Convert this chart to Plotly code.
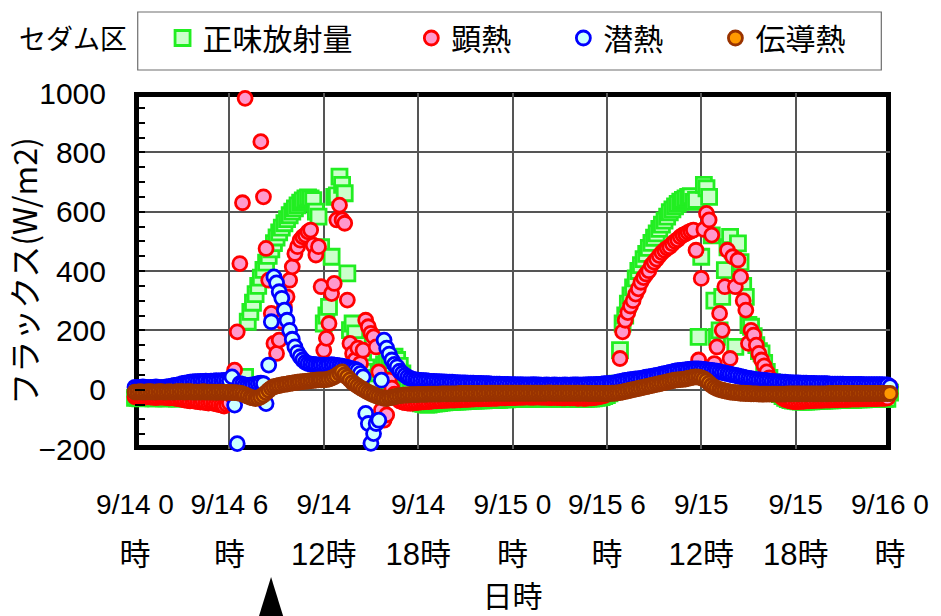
import numpy as np
import plotly.graph_objects as go

# 10-minute flux records (W/m2), 9/14 0:00 - 9/16 0:00
STEP_MIN = 10

net_rad_0914 = [
    -28, -28, -29, -28, -27, -28,  -28, -29, -29, -28, -28, -29,
    -29, -28, -28, -29, -30, -29,  -28, -28, -29, -29, -28, -28,
    -27, -28, -28, -27, -28, -29,  -28, -27, -26, -25, -24, -22,
    -18, -12, -5, 5, 18, 30,       43, 229, 262, 293, 322, 350,
    378, 404, 428, 451, 473, 494,  513, 530, 546, 561, 575, 588,
    600, 611, 621, 630, 638, 645,  648, 645, 639, 600, 583, 480,
    223, 250, 279, 448, 650, 655,  718, 690, 662, 392, 201, 223,
    190, 150, 110, 90, 66, 75,     60, 40, 30, 55, 70, 85,
    100, 105, 110, 111, 100, 80,   55, 30, 10, -10, -25, -35,
    -42, -46, -48, -50, -50, -48,  -47, -46, -45, -44, -43, -42,
    -42, -41, -40, -40, -39, -39,  -38, -38, -37, -37, -37, -36,
    -36, -36, -35, -35, -35, -34,  -34, -34, -33, -33, -33, -32,
]
net_rad_0915 = [
    -32, -32, -31, -31, -31, -30,  -30, -30, -31, -30, -30, -29,
    -29, -30, -30, -29, -29, -30,  -30, -30, -29, -30, -31, -30,
    -31, -31, -30, -31, -31, -30,  -30, -29, -28, -27, -25, -22,
    -18, -12, -5, 5, 20, 133,      223, 250, 290, 318, 345, 375,
    400, 420, 440, 458, 478, 495,  512, 527, 542, 556, 570, 583,
    598, 608, 618, 626, 634, 640,  645, 650, 652, 633, 640, 178,
    448, 690, 679, 650, 520, 300,  178, 200, 313, 403, 480, 515,
    470, 144, 493, 430, 350, 313,  218, 212, 180, 150, 130, 122,
    90, 60, 40, 25, 10, -5,        -15, -22, -28, -32, -35, -37,
    -38, -39, -40, -40, -40, -39,  -39, -38, -38, -37, -37, -37,
    -36, -36, -36, -35, -35, -35,  -35, -34, -34, -34, -34, -33,
    -33, -33, -33, -32, -32, -32,  -32, -32, -31, -31, -31, -31,
    -10,
]

sensible_0914 = [
    -24, -25, -25, -26, -25, -24,  -25, -26, -27, -26, -25, -26,
    -27, -28, -27, -28, -30, -29,  -33, -35, -36, -38, -37, -39,
    -40, -42, -41, -44, -45, -43,  -46, -48, -50, -52, -55, -50,
    -45, -20, 66, 195, 425, 630,   982, 10, 5, 8, 12, 15,
    836, 650, 476, 369, 257, 156,  122, 167, 230, 279, 313, 369,
    414, 459, 482, 504, 515, 521,  532, 538, 487, 454, 482, 347,
    133, 173, 223, 324, 358, 572,  622, 572, 561, 302, 156, 122,
    100, 140, 88, 133, 234, 212,   190, 178, 144, 60, -69, -103,
    -85, 32, 5, -15, -30, -38,     -42, -44, -45, -46, -45, -44,
    -43, -42, -41, -40, -40, -39,  -38, -38, -37, -37, -36, -36,
    -35, -35, -35, -34, -34, -33,  -33, -33, -32, -32, -31, -31,
    -31, -30, -30, -30, -29, -29,  -29, -28, -28, -28, -27, -27,
]
sensible_0915 = [
    -27, -27, -26, -26, -26, -25,  -25, -26, -26, -25, -25, -26,
    -26, -26, -27, -27, -26, -27,  -27, -28, -28, -27, -28, -28,
    -28, -29, -28, -29, -29, -28,  -28, -27, -26, -24, -22, -20,
    -16, -10, -4, 2, 20, 105,      195, 234, 260, 282, 300, 322,
    340, 362, 378, 390, 401, 420,  430, 440, 452, 462, 470, 477,
    482, 492, 500, 506, 515, 521,  525, 530, 534, 538, 470, 100,
    375, 540, 594, 572, 521, 88,   144, 257, 200, 347, 470, 105,
    448, 347, 437, 380, 300, 268,  156, 200, 184, 150, 122, 100,
    80, 60, 40, 20, 5, -10,        -20, -28, -33, -36, -38, -40,
    -40, -40, -39, -39, -38, -38,  -37, -37, -36, -36, -36, -35,
    -35, -35, -34, -34, -34, -33,  -33, -33, -33, -32, -32, -32,
    -32, -31, -31, -31, -30, -30,  -30, -30, -29, -29, -29, -28,
    10,
]

latent_0914 = [
    8, 7, 8, 9, 8, 7,              8, 8, 9, 8, 7, 8,
    9, 10, 12, 14, 15, 17,         20, 22, 23, 25, 26, 27,
    27, 28, 28, 29, 28, 29,        29, 30, 29, 30, 31, 30,
    30, 43, -52, -182, 20, 18,     15, 14, 15, 16, 18, 20,
    22, 20, -47, 83, 229, 380,     360, 330, 308, 268, 234, 200,
    170, 144, 125, 111, 100, 92,   88, 86, 85, 84, 83, 83,
    83, 82, 83, 84, 83, 82,        80, 79, 77, 75, 72, 70,
    68, 64, 55, 43, -80, -114,     -181, -148, -114, -103, 32, 167,
    140, 120, 100, 85, 77, 62,     55, 48, 42, 38, 35, 33,
    32, 31, 30, 30, 29, 28,        28, 27, 27, 26, 26, 25,
    25, 25, 24, 24, 23, 23,        23, 22, 22, 22, 21, 21,
    21, 20, 20, 20, 19, 19,        19, 19, 18, 18, 18, 17,
]
latent_0915 = [
    17, 17, 16, 17, 16, 16,        16, 16, 17, 16, 16, 15,
    15, 16, 15, 15, 16, 15,        15, 15, 16, 15, 15, 16,
    16, 16, 15, 16, 16, 17,        17, 17, 18, 18, 19, 20,
    20, 21, 22, 23, 25, 27,        29, 31, 32, 34, 35, 36,
    36, 38, 40, 42, 43, 45,        46, 48, 50, 52, 54, 56,
    58, 60, 62, 64, 65, 66,        67, 68, 69, 70, 70, 70,
    69, 68, 67, 66, 65, 63,        62, 60, 58, 56, 54, 52,
    50, 48, 46, 44, 42, 40,        38, 37, 35, 34, 33, 32,
    31, 30, 29, 28, 27, 26,        26, 25, 25, 24, 24, 23,
    23, 23, 22, 22, 22, 21,        21, 21, 20, 20, 20, 20,
    20, 19, 19, 19, 19, 19,        19, 18, 18, 18, 18, 18,
    18, 18, 17, 17, 17, 17,        17, 17, 17, 17, 16, 16,
    10,
]

conduction_0914 = [
    -8, -8, -7, -8, -8, -7,        -7, -8, -8, -7, -7, -8,
    -8, -7, -8, -8, -7, -7,        -7, -8, -7, -7, -8, -8,
    -8, -8, -7, -8, -8, -8,        -8, -9, -8, -8, -9, -9,
    -9, -10, -10, -11, -12, -14,   -18, -22, -26, -28, -30, -28,
    -24, -18, -10, -2, 5, 10,      12, 14, 16, 18, 19, 21,
    22, 24, 25, 26, 27, 28,        29, 30, 31, 32, 33, 33,
    33, 34, 36, 39, 43, 48,        55, 60, 50, 42, 33, 24,
    18, 12, 6, 1, -4, -9,          -13, -17, -21, -24, -27, -29,
    -30, -28, -26, -24, -22, -20,  -19, -18, -18, -17, -17, -17,
    -16, -16, -16, -16, -15, -15,  -15, -15, -15, -14, -14, -14,
    -14, -14, -14, -14, -13, -13,  -13, -13, -13, -13, -13, -13,
    -13, -12, -13, -12, -12, -12,  -12, -12, -12, -12, -12, -12,
]
conduction_0915 = [
    -12, -12, -12, -12, -12, -12,  -12, -12, -12, -12, -12, -12,
    -12, -12, -11, -12, -12, -12,  -12, -12, -12, -12, -12, -12,
    -12, -12, -12, -12, -12, -13,  -13, -13, -13, -13, -13, -13,
    -13, -13, -12, -12, -11, -10,  -8, -6, -4, -2, 0, 2,
    4, 6, 8, 10, 12, 14,           16, 18, 20, 22, 24, 26,
    28, 30, 32, 33, 34, 35,        36, 38, 40, 42, 43, 42,
    40, 36, 30, 22, 14, 8,         4, 0, -2, -4, -6, -8,
    -9, -10, -11, -12, -12, -13,   -13, -14, -14, -14, -15, -15,
    -15, -15, -15, -15, -15, -15,  -15, -15, -15, -14, -14, -14,
    -14, -14, -14, -14, -14, -14,  -14, -14, -14, -14, -14, -14,
    -14, -13, -14, -13, -13, -13,  -13, -13, -13, -13, -13, -13,
    -13, -13, -13, -13, -13, -13,  -13, -13, -13, -13, -13, -13,
    -13,
]

series_names = ["正味放射量", "顕熱", "潜熱", "伝導熱"]
tick_hours = [0, 6, 12, 18, 24, 30, 36, 42, 48]
tick_line1 = ["9/14 0", "9/14 6", "9/14", "9/14", "9/15 0", "9/15 6", "9/15", "9/15", "9/16 0"]
tick_line2 = ["時", "時", "12時", "18時", "時", "時", "12時", "18時", "時"]
y_ticks = [-200, 0, 200, 400, 600, 800, 1000]
y_range = [-200, 1000]
marker_hour = 8.65   # time pointed at by the triangle under the axis

series_values = [
    net_rad_0914 + net_rad_0915,
    sensible_0914 + sensible_0915,
    latent_0914 + latent_0915,
    conduction_0914 + conduction_0915,
]
hours = np.arange(len(series_values[0])) * STEP_MIN / 60.0

CJK = "Noto Sans CJK JP"
NUM = "Liberation Sans, Arial, " + CJK

styles = [
    dict(symbol="square", size=15, color="#ccffcc", line=dict(color="#22ee22", width=2.8)),
    dict(symbol="circle", size=14, color="#ff99cc", line=dict(color="#ff0000", width=2.8)),
    dict(symbol="circle", size=14, color="#ccffff", line=dict(color="#0000ff", width=2.8)),
    dict(symbol="circle", size=14, color="#ff9900", line=dict(color="#993300", width=2.8)),
]
pads = ["\u00a0" * 8, "\u00a0" * 7, "\u00a0" * 7, ""]

fig = go.Figure()
for name, vals, st, pad in zip(series_names, series_values, styles, pads):
    fig.add_trace(go.Scatter(
        x=hours, y=vals, mode="markers", name=name + pad,
        marker=st, cliponaxis=False,
    ))

ticktext = [f"<span style='font-size:28px'>{a}</span><br><span style='font-size:31px'>{b}</span>"
            for a, b in zip(tick_line1, tick_line2)]

fig.update_layout(
    width=941, height=616,
    margin=dict(l=133, r=49, t=93, b=167),
    paper_bgcolor="white", plot_bgcolor="white",
    font=dict(family=CJK, color="black"),
    legend=dict(
        orientation="h", x=0.0365, xanchor="left", y=1.2275, yanchor="top",
        borderwidth=0, bgcolor="rgba(0,0,0,0)",
        font=dict(family=CJK, size=30, color="black"),
        traceorder="normal",
    ),
    xaxis=dict(
        range=[0, 48], tickmode="array", tickvals=tick_hours, ticktext=ticktext,
        tickangle=0, ticklabelstandoff=25,
        tickfont=dict(family=NUM, size=39, color="black"),
        showgrid=True, gridcolor="#555555", gridwidth=1.5,
        zeroline=False, showline=False, ticks="",
        title=dict(text="日時", font=dict(family=CJK, size=30), standoff=0),
    ),
    yaxis=dict(
        range=y_range, tickmode="array", tickvals=y_ticks,
        tickfont=dict(family=NUM, size=30, color="black"),
        showgrid=True, gridcolor="#555555", gridwidth=1.5,
        zeroline=False, showline=False,
        ticks="inside", ticklen=10, tickwidth=2, tickcolor="black",
        minor=dict(dtick=50, tick0=0, ticks="inside", ticklen=10, tickwidth=2,
                   tickcolor="black", showgrid=False),
        ticklabelstandoff=28,
        title=dict(text="フラックス(W/m2)", font=dict(family=CJK, size=32), standoff=4),
    ),
    shapes=[
        # plot frame
        dict(type="rect", xref="paper", yref="paper", x0=0.002, x1=0.998, y0=0.004, y1=0.996,
             line=dict(color="black", width=5), layer="below"),
        # legend box
        dict(type="rect", xref="paper", yref="paper", x0=0.0036, x1=0.9885, y0=1.0646, y1=1.2275,
             line=dict(color="#6e6e6e", width=1.2), fillcolor="white", layer="below"),
        # pointer triangle under the time axis
        dict(type="path", xref="paper", yref="paper", fillcolor="black", line=dict(width=0),
             path=f"M {marker_hour/48:.4f},-0.3596 L {marker_hour/48 + 0.0234:.4f},-0.52 "
                  f"L {marker_hour/48 - 0.0234:.4f},-0.52 Z"),
    ],
    annotations=[
        dict(text="セダム区", xref="paper", yref="paper", x=-0.082, y=1.157,
             xanchor="center", yanchor="middle",
             showarrow=False, font=dict(family=CJK, size=27, color="black")),
    ],
)

fig.write_html("out.html")
